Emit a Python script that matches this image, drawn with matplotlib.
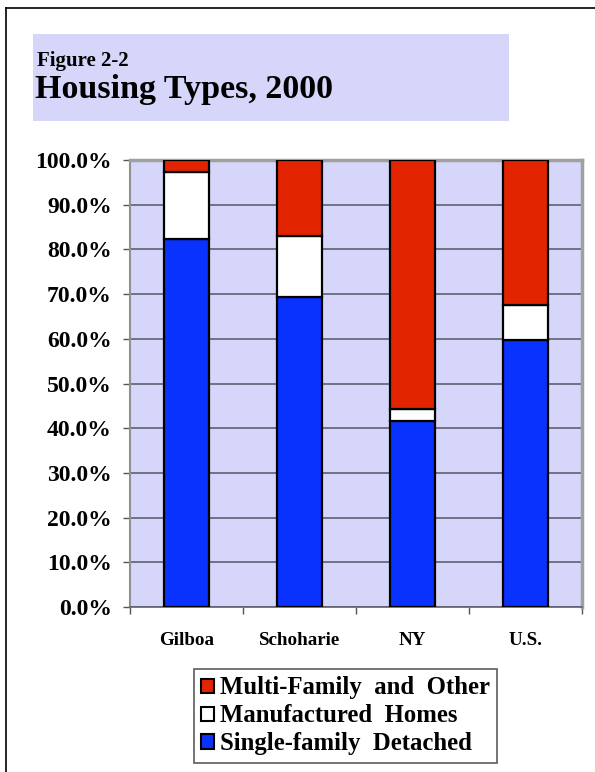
import matplotlib
matplotlib.use("Agg")
import matplotlib.pyplot as plt
from matplotlib.patches import Rectangle, Patch
from matplotlib.lines import Line2D
from matplotlib.ticker import FixedLocator, PercentFormatter
import numpy as np

categories = ["Gilboa", "Schoharie", "NY", "U.S."]
single_family = [82.3, 69.4, 41.5, 59.8]
manufactured = [15.0, 13.6, 2.9, 7.7]
multi_family = [2.7, 17.0, 55.6, 32.5]
series_names = ["Single-family  Detached", "Manufactured  Homes", "Multi-Family  and  Other"]
colors = ["#0A32FF", "#FFFFFF", "#E32400"]

plt.rcParams['font.family'] = ['Liberation Serif', 'DejaVu Serif']
plt.rcParams['font.weight'] = 'bold'

W, H = 595, 772
fig = plt.figure(figsize=(W / 100, H / 100), dpi=100)
fig.patch.set_facecolor("white")

# page frame
fig.add_artist(Line2D([6 / W, 6 / W], [0, 1 - 8 / H], color="black", lw=1.2, transform=fig.transFigure))
fig.add_artist(Line2D([6 / W, 1], [1 - 8 / H, 1 - 8 / H], color="black", lw=1.2, transform=fig.transFigure))

# title box
fig.add_artist(Rectangle((33 / W, 1 - 121 / H), (509 - 33) / W, (121 - 34) / H,
                         facecolor="#D6D6FA", edgecolor="none", transform=fig.transFigure))
fig.text(37 / W, 1 - 66 / H, "Figure 2-2", fontsize=15, fontweight="bold", va="baseline", ha="left")
fig.text(35 / W, 1 - 98 / H, "Housing Types, 2000", fontsize=24.5, fontweight="bold", va="baseline", ha="left")

ax = fig.add_axes([130 / W, 1 - 607 / H, (582 - 130) / W, (607 - 160) / H])
ax.set_facecolor("#D6D6FA")
x = np.arange(len(categories))
bw = 0.4
bottom = np.zeros(len(categories))
for vals, c, name in zip([single_family, manufactured, multi_family], colors, series_names):
    ax.bar(x, vals, bw, bottom=bottom, color=c, edgecolor="black", linewidth=1.6, label=name, zorder=3)
    bottom += np.array(vals)

ax.set_xlim(-0.5, len(categories) - 0.5)
ax.set_ylim(0, 100)
ax.set_yticks(np.arange(0, 101, 10))
ax.yaxis.set_major_formatter(PercentFormatter(decimals=1))
ax.grid(axis="y", color="#606070", lw=1.2, zorder=1)
ax.set_xticks(x)
ax.set_xticklabels(categories)
ax.xaxis.set_minor_locator(FixedLocator(np.arange(-0.5, len(categories), 1)))
ax.tick_params(axis="x", which="major", length=0, pad=18, labelsize=13.7)
ax.tick_params(axis="x", which="minor", length=5, width=1, direction="out", color="#555555")
ax.tick_params(axis="y", length=5, width=1, color="#555555", labelsize=17, pad=8)
for t in ax.get_xticklabels() + ax.get_yticklabels():
    t.set_fontweight("bold")
for s in ["top", "right"]:
    ax.spines[s].set_color("#A0A0A0")
    ax.spines[s].set_linewidth(2.5)
ax.spines["left"].set_color("#909090")
ax.spines["left"].set_linewidth(1.5)
ax.spines["bottom"].set_color("#606070")
ax.spines["bottom"].set_linewidth(1.2)

handles = [Patch(facecolor=colors[i], edgecolor="black", linewidth=1.5, label=series_names[i]) for i in [2, 1, 0]]
leg = fig.legend(handles=handles, loc="upper left", bbox_to_anchor=(194 / W, 1 - 669 / H),
                 bbox_transform=fig.transFigure, frameon=True, fancybox=False, shadow=False,
                 prop={"size": 17.8, "weight": "bold"}, handlelength=0.5, handleheight=0.5,
                 handletextpad=0.25, labelspacing=0.2, borderpad=0.3, borderaxespad=0)
leg.get_frame().set_edgecolor("#333333")
leg.get_frame().set_linewidth(1.2)

fig.savefig("out.png", dpi=100)
